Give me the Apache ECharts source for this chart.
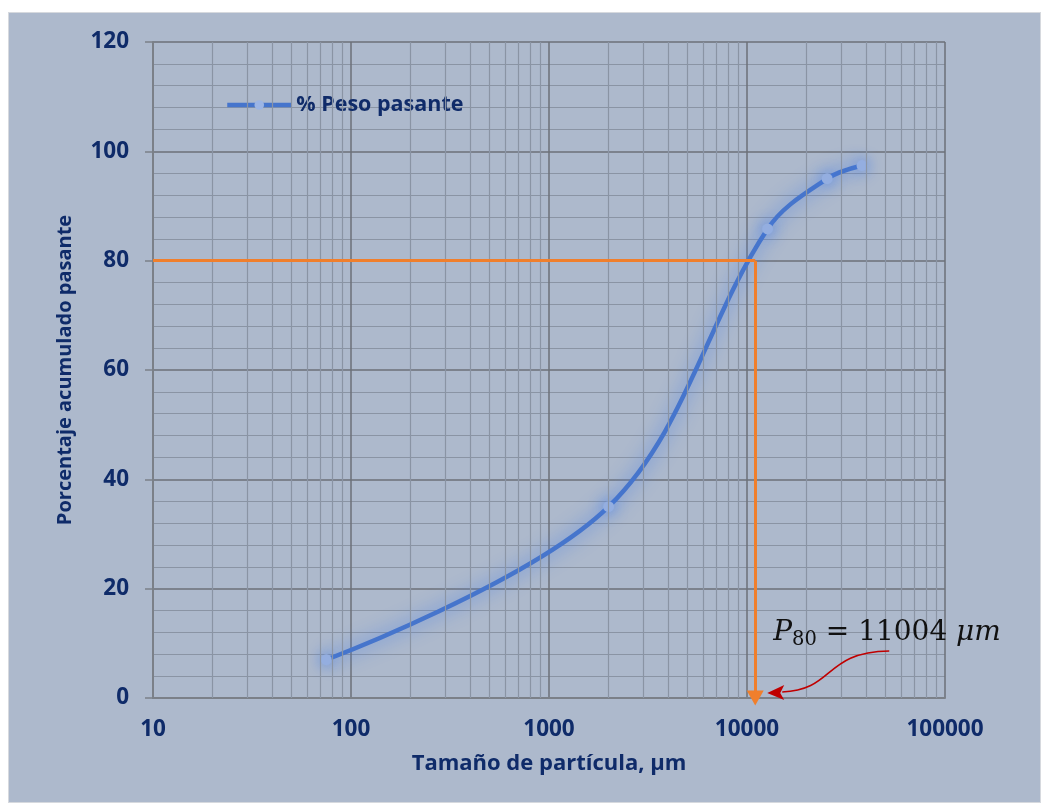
<!DOCTYPE html>
<html>
<head>
<meta charset="utf-8">
<script src="https://cdn.jsdelivr.net/npm/echarts@6/dist/echarts.min.js"></script>
<style>
  html, body { margin: 0; padding: 0; background: #ffffff; }
  #panel { position: absolute; left: 8px; top: 12px; width: 1031px; height: 789px;
           background: #adb9cc; border: 1px solid #d6d9de; }
  #main { position: absolute; left: 0; top: 0; width: 1041px; height: 803px; }
</style>
</head>
<body>
<div id="panel"></div>
<div id="main"></div>
<script>
// Granulometric curve: cumulative % passing vs particle size (log scale)
const sizes = [75, 2000, 12700, 25400, 38100];          // µm
const passing = [7, 35, 85.8, 95, 97.4];                // % cumulative passing
const seriesName = '% Peso pasante';
const p80Value = 80;
const p80Size = 11004;                                   // µm
const p80Text = ['P', '80', ' = 11004 ', 'μm'];
const xTickLabels = ['10', '100', '1000', '10000', '100000'];
const yTickLabels = ['0', '20', '40', '60', '80', '100', '120'];

const navy = '#0f2b69';
const labelFont = 'Open Sans';
const majorGrid = '#6c7179';
const minorGrid = '#8a94a4';

// minor log gridlines at 2..9 × each decade
const minorX = [];
for (let e = 1; e < 5; e++) {
  for (let d = 2; d <= 9; d++) minorX.push(d * Math.pow(10, e));
}

const chart = echarts.init(document.getElementById('main'), null, { renderer: 'canvas' });

const option = {
  backgroundColor: 'transparent',
  animation: false,
  grid: { left: 153, right: 96, top: 42, bottom: 105 },
  legend: {
    left: 220, top: 89,
    itemWidth: 64, itemHeight: 12, itemGap: 4,
    lineStyle: { width: 4.5, color: '#4675cc', shadowBlur: 0, shadowColor: 'transparent' },
    itemStyle: { color: '#9cb5e4', borderWidth: 0, shadowBlur: 0, shadowColor: 'transparent' },
    textStyle: { color: navy, fontFamily: labelFont, fontWeight: 'bold', fontSize: 21.5 },
    data: [seriesName]
  },
  xAxis: {
    type: 'log', logBase: 10, min: 10, max: 100000,
    name: 'Tamaño de partícula, µm',
    nameLocation: 'middle', nameGap: 55,
    nameTextStyle: { color: navy, fontFamily: labelFont, fontWeight: 'bold', fontSize: 22 },
    axisLine: { show: true, onZero: false, lineStyle: { color: '#7b8088', width: 2 } },
    axisTick: { show: false },
    axisLabel: {
      color: navy, fontFamily: labelFont, fontWeight: 'bold', fontSize: 22.5, margin: 20,
      formatter: v => xTickLabels[Math.round(Math.log10(v)) - 1]
    },
    splitLine: { show: true, lineStyle: { color: majorGrid, width: 1.5 } }
  },
  yAxis: {
    type: 'value', min: 0, max: 120, interval: 20,
    name: 'Porcentaje acumulado pasante',
    nameLocation: 'middle', nameGap: 78,
    nameTextStyle: { color: navy, fontFamily: labelFont, fontWeight: 'bold', fontSize: 20 },
    axisLine: { show: true, lineStyle: { color: '#7b8088', width: 2 } },
    axisTick: { show: true, inside: false, length: 8, lineStyle: { color: '#7b8088', width: 1.5 } },
    minorTick: { show: false, splitNumber: 5 },
    axisLabel: {
      color: navy, fontFamily: labelFont, fontWeight: 'bold', fontSize: 22.5, margin: 24,
      formatter: v => yTickLabels[Math.round(v / 20)]
    },
    splitLine: { show: true, lineStyle: { color: majorGrid, width: 1.5 } },
    minorSplitLine: { show: true, lineStyle: { color: minorGrid, width: 1.2 } }
  },
  series: [
    {
      // minor vertical log gridlines
      type: 'line', data: [], silent: true, z: 1,
      markLine: {
        silent: true, symbol: ['none', 'none'], label: { show: false },
        lineStyle: { color: minorGrid, width: 1.2, type: 'solid' },
        data: minorX.map(v => ({ xAxis: v }))
      }
    },
    {
      name: seriesName,
      type: 'line',
      data: sizes.map((s, i) => [s, passing[i]]),
      smooth: 0.35,
      symbol: 'circle', symbolSize: 11,
      lineStyle: { color: '#4675cc', width: 4.5, shadowBlur: 18, shadowColor: 'rgba(72,126,232,0.95)' },
      itemStyle: { color: '#94aee0', shadowBlur: 14, shadowColor: 'rgba(72,126,232,0.9)' },
      z: 3
    },
    {
      // P80 guide lines
      type: 'line', data: [], silent: true, z: 4,
      markLine: {
        silent: true, label: { show: false },
        symbol: ['none', 'none'],
        lineStyle: { color: '#f07f2c', width: 3, type: 'solid' },
        data: [
          [{ coord: [10, p80Value] }, { coord: [p80Size, p80Value] }],
          [{ coord: [p80Size, p80Value], symbol: 'none' },
           { coord: [p80Size, 0], symbol: 'triangle', symbolSize: [17, 15] }]
        ]
      }
    }
  ]
};

chart.setOption(option);

// P80 annotation: text and red curved arrow, anchored to the P80 point on the x axis
const a = chart.convertToPixel({ gridIndex: 0 }, [p80Size, 0]);
const tip = [a[0] + 12, a[1] - 5];
chart.setOption({
  graphic: [
    {
      type: 'text', left: a[0] + 18, top: a[1] - 79, z: 10,
      style: {
        text: '{pi|' + p80Text[0] + '}{sub|' + p80Text[1] + '}{n|' + p80Text[2] + '}{pi|' + p80Text[3] + '}',
        rich: {
          pi: { fontFamily: 'DejaVu Serif', fontStyle: 'italic', fontSize: 28, fill: '#111', lineHeight: 34, verticalAlign: 'middle' },
          n: { fontFamily: 'DejaVu Serif', fontSize: 28, fill: '#111', lineHeight: 34, verticalAlign: 'middle' },
          sub: { fontFamily: 'DejaVu Serif', fontSize: 19.5, fill: '#111', lineHeight: 15, verticalAlign: 'bottom' }
        }
      }
    },
    {
      type: 'bezierCurve', z: 10,
      shape: {
        x1: tip[0] + 122, y1: tip[1] - 42,
        cpx1: tip[0] + 56, cpy1: tip[1] - 41,
        cpx2: tip[0] + 68, cpy2: tip[1] - 3,
        x2: tip[0] + 15, y2: tip[1] - 1
      },
      style: { stroke: '#c00000', lineWidth: 1.6, fill: 'none' }
    },
    {
      type: 'polygon', z: 10,
      shape: { points: [[tip[0], tip[1]], [tip[0] + 17, tip[1] - 8], [tip[0] + 13, tip[1]], [tip[0] + 17, tip[1] + 7]] },
      style: { fill: '#c00000' }
    }
  ]
});
</script>
</body>
</html>
